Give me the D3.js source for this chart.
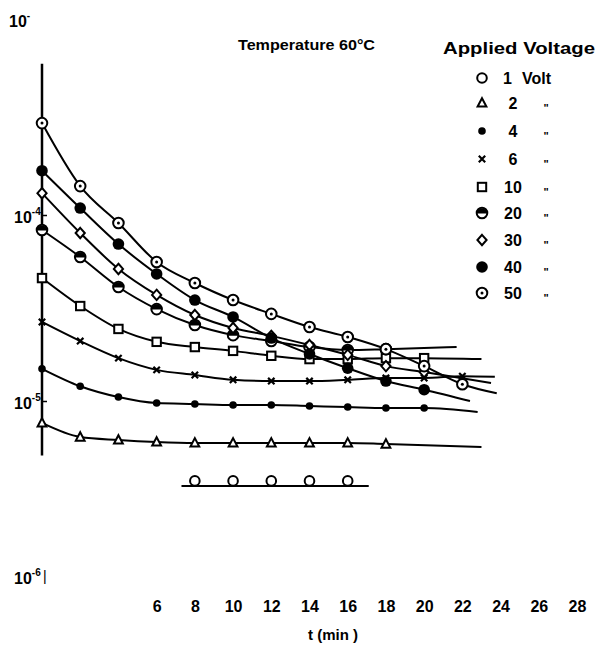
<!DOCTYPE html>
<html>
<head>
<meta charset="utf-8">
<script src="https://cdn.jsdelivr.net/npm/d3@7"></script>
<style>
  body { margin: 0; background: #fff; }
  svg { display: block; }
  text { font-family: "Liberation Sans", Arial, sans-serif; font-weight: bold; fill: #000; }
</style>
</head>
<body>
<svg id="chart" width="598" height="648"></svg>
<script>
// time axis (min)
const minutes = [0, 2, 4, 6, 8, 10, 12, 14, 16, 18, 20, 22];
const xTicks = [6, 8, 10, 12, 14, 16, 18, 20, 22, 24, 26, 28];

// current values, one array per applied voltage
const v1Times = [8, 10, 12, 14, 16];
const v1 = [3.72e-6, 3.72e-6, 3.72e-6, 3.72e-6, 3.72e-6];
const v1Line = [[7.3, 3.49e-6], [17.1, 3.49e-6]];
const v2 = [7.62e-6, 6.40e-6, 6.17e-6, 6.02e-6, 5.95e-6, 5.95e-6, 5.95e-6, 5.95e-6, 5.95e-6, 5.87e-6];
const v4 = [1.49e-5, 1.20e-5, 1.05e-5, 9.75e-6, 9.64e-6, 9.52e-6, 9.52e-6, 9.40e-6, 9.28e-6, 9.17e-6, 9.17e-6];
const v6 = [2.66e-5, 2.10e-5, 1.70e-5, 1.47e-5, 1.38e-5, 1.30e-5, 1.28e-5, 1.28e-5, 1.30e-5, 1.33e-5, 1.33e-5, 1.36e-5];
const v10 = [4.58e-5, 3.24e-5, 2.44e-5, 2.08e-5, 1.95e-5, 1.86e-5, 1.75e-5, 1.68e-5, 1.68e-5, 1.70e-5, 1.70e-5];
const v20 = [8.31e-5, 5.95e-5, 4.10e-5, 3.12e-5, 2.56e-5, 2.26e-5, 2.10e-5, 1.95e-5, 1.88e-5, 1.90e-5];
const v30 = [1.31e-4, 8.00e-5, 5.13e-5, 3.72e-5, 2.90e-5, 2.47e-5, 2.24e-5, 2.00e-5, 1.77e-5, 1.54e-5, 1.43e-5];
const v40 = [1.73e-4, 1.09e-4, 6.98e-5, 4.82e-5, 3.49e-5, 2.83e-5, 2.18e-5, 1.79e-5, 1.50e-5, 1.28e-5, 1.15e-5];
const v50 = [3.12e-4, 1.43e-4, 9.06e-5, 5.59e-5, 4.31e-5, 3.49e-5, 2.94e-5, 2.50e-5, 2.21e-5, 1.90e-5, 1.54e-5, 1.23e-5];

// where each hand drawn fit line stops [t, value]
const lineEnds = {
  v2: [23, 5.66e-6], v4: [22.8, 8.73e-6], v6: [23.7, 1.35e-5], v10: [23, 1.68e-5],
  v20: [21.7, 1.95e-5], v30: [23.5, 1.25e-5], v40: [22.4, 1.00e-5], v50: [23.8, 1.10e-5]
};

const legendLabels = ["1", "2", "4", "6", "10", "20", "30", "40", "50"];
const legendMarks = ["open", "tri", "dot", "cross", "square", "half", "diamond", "filled", "dotted"];

const svg = d3.select("#chart");
const x = d3.scaleLinear().domain([0, 28]).range([42, 577]);
const y = d3.scaleLog().domain([1e-6, 1e-3]).range([587, 29]);

// y axis line + small ticks
svg.append("line")
  .attr("x1", x(0)).attr("x2", x(0))
  .attr("y1", y(6.5e-4)).attr("y2", y(5.1e-6))
  .attr("stroke", "#000").attr("stroke-width", 2.5);

const yAx = svg.append("g")
  .attr("transform", `translate(${x(0)},0)`)
  .call(d3.axisRight(y).tickValues([1e-4, 1e-5]).tickSize(5).tickFormat(""));
yAx.select(".domain").remove();
yAx.selectAll("line").attr("stroke-width", 1.5);

// y labels 10^-n
const yLabels = [[1e-3, "-"], [1e-4, "-4"], [1e-5, "-5"], [1e-6, "-6"]];
yLabels.forEach(([v, sup], i) => {
  const t = svg.append("text")
    .attr("x", i === 0 ? 9 : 14)
    .attr("y", y(v) + (i === 0 ? -2 : i === 3 ? -3 : 8))
    .style("font-size", "16px");
  t.append("tspan").text("10");
  t.append("tspan").attr("dy", -8).style("font-size", "10px").text(sup);
});
svg.append("text").attr("x", 43).attr("y", y(1e-6) - 6).style("font-size", "14px").style("font-weight", "normal").text("|");

// x tick labels
const xAx = svg.append("g")
  .attr("transform", "translate(0,601)")
  .call(d3.axisBottom(x).tickValues(xTicks).tickSize(0).tickPadding(0));
xAx.select(".domain").remove();
xAx.selectAll("text")
  .style("font-family", "'Liberation Sans', Arial, sans-serif")
  .style("font-weight", "bold")
  .style("font-size", "16px");

svg.append("text").attr("x", 333).attr("y", 640)
  .attr("text-anchor", "middle").style("font-size", "15px").text("t (min )");

svg.append("text").attr("x", 238).attr("y", 50)
  .attr("textLength", 137).attr("lengthAdjust", "spacingAndGlyphs")
  .style("font-size", "15px").text("Temperature 60°C");
svg.append("text").attr("x", 443).attr("y", 54)
  .attr("textLength", 152).attr("lengthAdjust", "spacingAndGlyphs")
  .style("font-size", "16px").text("Applied Voltage");

// markers
function mark(g, kind, cx, cy) {
  const s = g.append("g").attr("transform", `translate(${cx},${cy})`);
  if (kind === "open") {
    s.append("circle").attr("r", 4.8).attr("fill", "#fff").attr("stroke", "#000").attr("stroke-width", 2);
  } else if (kind === "tri") {
    s.append("path").attr("d", "M0,-4.8L4.4,3.6L-4.4,3.6Z").attr("fill", "#fff").attr("stroke", "#000").attr("stroke-width", 2);
  } else if (kind === "dot") {
    s.append("circle").attr("r", 3.8).attr("fill", "#000");
  } else if (kind === "cross") {
    s.append("path").attr("d", "M-3.2,-3.2L3.2,3.2M3.2,-3.2L-3.2,3.2").attr("stroke", "#000").attr("stroke-width", 2.2);
  } else if (kind === "square") {
    s.append("rect").attr("x", -4.2).attr("y", -4.2).attr("width", 8.4).attr("height", 8.4)
      .attr("fill", "#fff").attr("stroke", "#000").attr("stroke-width", 2);
  } else if (kind === "half") {
    s.append("circle").attr("r", 5.3).attr("fill", "#fff").attr("stroke", "#000").attr("stroke-width", 2);
    s.append("path").attr("d", "M-5.3,0.5A5.3,5.3 0 0 1 5.3,0.5Z").attr("fill", "#000");
  } else if (kind === "diamond") {
    s.append("path").attr("d", "M0,-5.2L4.6,0L0,5.2L-4.6,0Z").attr("fill", "#fff").attr("stroke", "#000").attr("stroke-width", 2);
  } else if (kind === "filled") {
    s.append("circle").attr("r", 5.8).attr("fill", "#000");
  } else if (kind === "dotted") {
    s.append("circle").attr("r", 5.3).attr("fill", "#fff").attr("stroke", "#000").attr("stroke-width", 2);
    s.append("circle").attr("r", 1.5).attr("fill", "#000");
  }
}

const series = [
  { key: "v2", vals: v2, kind: "tri" },
  { key: "v4", vals: v4, kind: "dot" },
  { key: "v6", vals: v6, kind: "cross" },
  { key: "v10", vals: v10, kind: "square" },
  { key: "v20", vals: v20, kind: "half" },
  { key: "v30", vals: v30, kind: "diamond" },
  { key: "v40", vals: v40, kind: "filled" },
  { key: "v50", vals: v50, kind: "dotted" }
];

const line = d3.line().x(d => x(d[0])).y(d => y(d[1])).curve(d3.curveMonotoneX);
const plot = svg.append("g");

series.forEach(s => {
  const pts = s.vals.map((v, i) => [minutes[i], v]);
  plot.append("path")
    .datum(pts.concat([lineEnds[s.key]]))
    .attr("d", line)
    .attr("fill", "none").attr("stroke", "#000").attr("stroke-width", 2);
});
series.forEach(s => {
  s.vals.forEach((v, i) => mark(plot, s.kind, x(minutes[i]), y(v)));
});

// 1 volt
v1.forEach((v, i) => mark(plot, "open", x(v1Times[i]), y(v)));
plot.append("path").datum(v1Line).attr("d", d3.line().x(d => x(d[0])).y(d => y(d[1])))
  .attr("stroke", "#000").attr("stroke-width", 2);

// legend
const leg = svg.append("g");
legendLabels.forEach((lab, i) => {
  const ly = [78, 103, 131, 159, 187, 213, 240, 267, 293][i];
  mark(leg, legendMarks[i], 482, ly);
  leg.append("text").attr("x", i === 0 ? 503 : 513).attr("y", ly + 6)
    .attr("text-anchor", i === 0 ? "start" : "middle")
    .style("font-size", "16px").text(lab);
  if (i === 0) {
    leg.append("text").attr("x", 522).attr("y", ly + 6).style("font-size", "16px").text("Volt");
  } else {
    leg.append("text").attr("x", 546).attr("y", ly + 9).attr("text-anchor", "middle")
      .style("font-size", "11px").text("\"");
  }
});
</script>
</body>
</html>
